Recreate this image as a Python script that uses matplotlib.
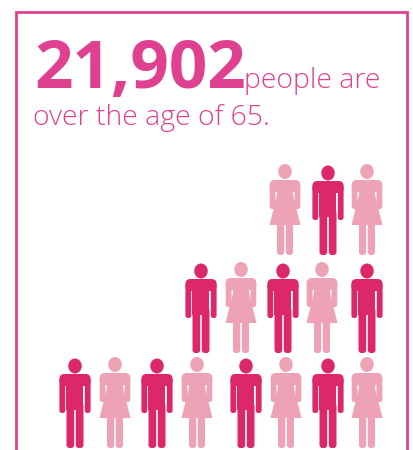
import matplotlib
matplotlib.use('Agg')
import matplotlib.pyplot as plt
from matplotlib.patches import Ellipse, FancyBboxPatch, Polygon, Rectangle

# one list per row of icons, top to bottom
row_top = ['F', 'M', 'F']
row_mid = ['M', 'F', 'M', 'F', 'M']
row_bot = ['M', 'F', 'M', 'F', 'M', 'F', 'M', 'F']
headline = '21,902'
text_1 = 'people are'
text_2 = 'over the age of 65.'

x_top = [285, 328, 367]
x_mid = [201, 241, 283, 322, 367]
x_bot = [75, 115, 157, 197, 246, 286, 328, 367]
feet = [255, 353, 448]

PINK = '#e04090'
MAN = '#dc2869'
WOMAN = '#eea2b6'


def rbox(ax, x0, y0, w, h, r, c):
    ax.add_patch(FancyBboxPatch((x0 + r, y0 + r), w - 2 * r, h - 2 * r,
                                boxstyle='round,pad=%f,rounding_size=%f' % (r, r),
                                fc=c, ec='none'))


def man(ax, x, y):
    ax.add_patch(Ellipse((x, y - 82), 13.5, 15, fc=MAN, ec='none'))
    rbox(ax, x - 15.6, y - 74, 31.2, 12, 5, MAN)
    rbox(ax, x - 15.6, y - 70, 5.8, 35, 2.5, MAN)
    rbox(ax, x + 9.8, y - 70, 5.8, 35, 2.5, MAN)
    ax.add_patch(Rectangle((x - 8.5, y - 68), 17, 30, fc=MAN, ec='none'))
    rbox(ax, x - 8.5, y - 45, 7.7, 45, 3, MAN)
    rbox(ax, x + 0.8, y - 45, 7.7, 45, 3, MAN)


def woman(ax, x, y):
    ax.add_patch(Ellipse((x, y - 83.5), 13.5, 15, fc=WOMAN, ec='none'))
    rbox(ax, x - 15.3, y - 75, 30.6, 12, 5, WOMAN)
    rbox(ax, x - 15.3, y - 71, 5.8, 25, 2.5, WOMAN)
    rbox(ax, x + 9.5, y - 71, 5.8, 25, 2.5, WOMAN)
    ax.add_patch(Polygon([(x - 8, y - 72), (x + 8, y - 72), (x + 8, y - 60),
                          (x + 15.5, y - 30), (x - 15.5, y - 30), (x - 8, y - 60)],
                         fc=WOMAN, ec='none'))
    rbox(ax, x - 8, y - 34, 7.2, 34, 3, WOMAN)
    rbox(ax, x + 0.8, y - 34, 7.2, 34, 3, WOMAN)


fig = plt.figure(figsize=(4.14, 4.5), dpi=100)
ax = fig.add_axes([0, 0, 1, 1])
ax.set_xlim(0, 414)
ax.set_ylim(450, 0)
ax.axis('off')

# frame has no bottom edge, it runs off the page
ax.plot([16.5, 16.5, 407, 407], [451, 11.5, 11.5, 451], color=PINK, lw=2.0,
        solid_joinstyle='miter')

ax.text(34.5, 88, headline, color=PINK, fontsize=48.5, family='Open Sans', weight='bold',
        ha='left', va='baseline')
ax.text(244, 88, text_1, color=PINK, fontsize=20.4, family='Open Sans', weight='light',
        ha='left', va='baseline')
ax.text(33, 125, text_2, color=PINK, fontsize=20.4, family='Open Sans', weight='light',
        ha='left', va='baseline')

for row, xs, y in zip([row_top, row_mid, row_bot], [x_top, x_mid, x_bot], feet):
    for g, x in zip(row, xs):
        if g == 'M':
            man(ax, x, y)
        else:
            woman(ax, x, y)

fig.savefig('out.png', dpi=100)
